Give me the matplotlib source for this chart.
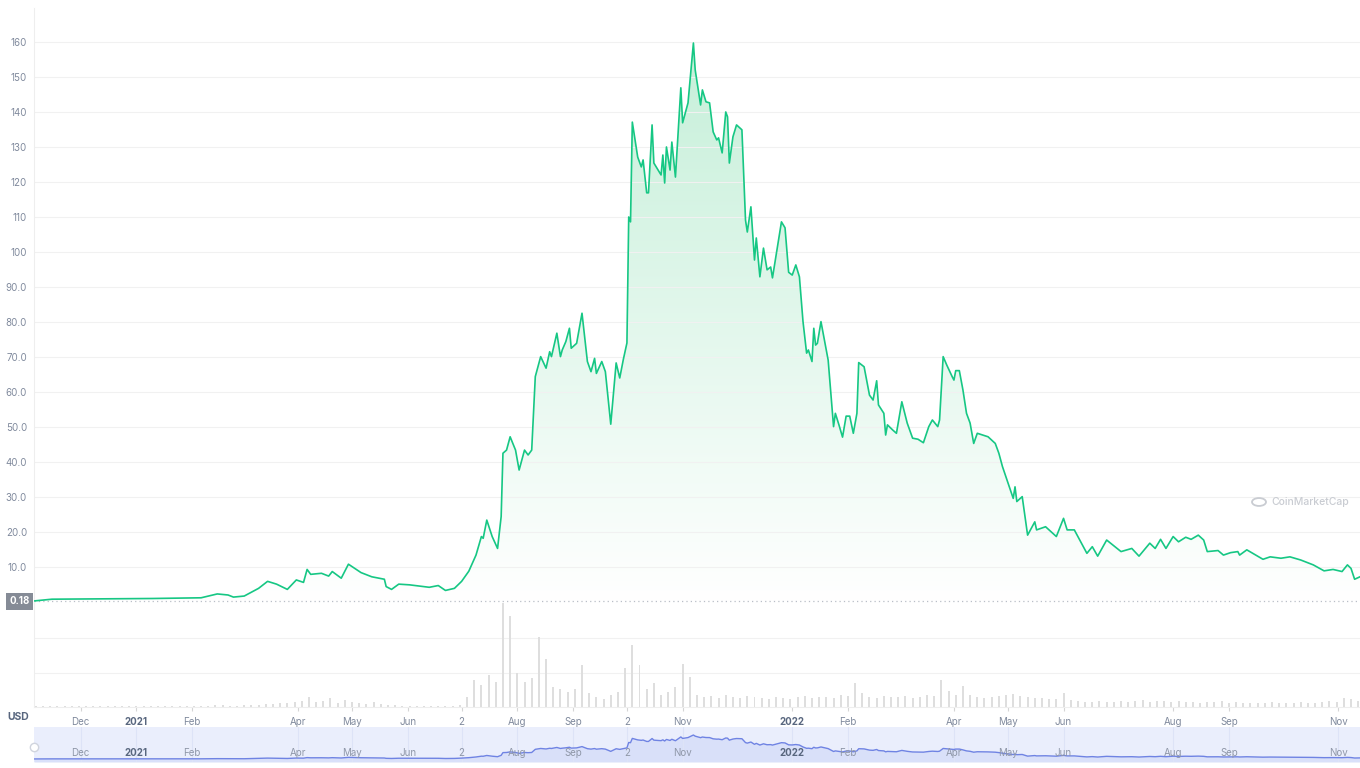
import numpy as np
import pandas as pd
import matplotlib
matplotlib.use("Agg")
import matplotlib.pyplot as plt
import matplotlib.dates as mdates
from matplotlib.colors import LinearSegmentedColormap

plt.rcParams['font.family'] = ['Inter', 'DejaVu Sans']

# price in USD
price_dates = [
    "2020-11-05", "2020-11-15", "2020-12-18", "2021-01-10", "2021-02-06", "2021-02-15", "2021-02-21",
    "2021-02-24", "2021-03-02", "2021-03-06", "2021-03-10", "2021-03-15", "2021-03-20", "2021-03-26",
    "2021-03-31", "2021-04-04", "2021-04-06", "2021-04-08", "2021-04-14", "2021-04-18", "2021-04-20",
    "2021-04-25", "2021-04-29", "2021-05-04", "2021-05-06", "2021-05-12", "2021-05-19", "2021-05-20",
    "2021-05-23", "2021-05-27", "2021-06-02", "2021-06-13", "2021-06-18", "2021-06-22", "2021-06-27",
    # Jul - Sep 2021
    "2021-07-01", "2021-07-05", "2021-07-09", "2021-07-12", "2021-07-13", "2021-07-15", "2021-07-18",
    "2021-07-21", "2021-07-23", "2021-07-24", "2021-07-26", "2021-07-28", "2021-07-31", "2021-08-02",
    "2021-08-05", "2021-08-07", "2021-08-09", "2021-08-11", "2021-08-14", "2021-08-17", "2021-08-19",
    "2021-08-20", "2021-08-23", "2021-08-25", "2021-08-26", "2021-08-28", "2021-08-30", "2021-08-31",
    "2021-09-03", "2021-09-06", "2021-09-09", "2021-09-11", "2021-09-13", "2021-09-14", "2021-09-17",
    "2021-09-19", "2021-09-22", "2021-09-25", "2021-09-27", "2021-09-29",
    # Oct - Dec 2021
    "2021-10-01", "2021-10-02", "2021-10-03", "2021-10-04", "2021-10-07", "2021-10-09", "2021-10-10",
    "2021-10-12", "2021-10-13", "2021-10-15", "2021-10-16", "2021-10-20", "2021-10-21", "2021-10-22",
    "2021-10-23", "2021-10-25", "2021-10-26", "2021-10-28", "2021-10-31",
    "2021-11-01", "2021-11-04", "2021-11-07", "2021-11-08", "2021-11-11", "2021-11-12", "2021-11-14",
    "2021-11-16", "2021-11-18", "2021-11-20", "2021-11-21", "2021-11-23", "2021-11-25", "2021-11-26",
    "2021-11-27", "2021-11-29",
    "2021-12-01", "2021-12-04", "2021-12-06", "2021-12-07", "2021-12-09", "2021-12-11", "2021-12-12",
    "2021-12-14", "2021-12-16", "2021-12-18", "2021-12-20", "2021-12-21", "2021-12-26", "2021-12-28",
    "2021-12-30",
    # 2022
    "2022-01-01", "2022-01-03", "2022-01-05", "2022-01-07", "2022-01-09", "2022-01-10", "2022-01-12",
    "2022-01-13", "2022-01-14", "2022-01-15", "2022-01-17", "2022-01-21", "2022-01-24", "2022-01-25",
    "2022-01-27", "2022-01-29", "2022-01-31",
    "2022-02-02", "2022-02-04", "2022-02-06", "2022-02-07", "2022-02-10", "2022-02-13", "2022-02-15",
    "2022-02-17", "2022-02-18", "2022-02-21", "2022-02-22", "2022-02-23", "2022-02-26", "2022-02-28",
    "2022-03-03", "2022-03-06", "2022-03-09", "2022-03-12", "2022-03-15", "2022-03-18", "2022-03-20",
    "2022-03-23", "2022-03-24", "2022-03-26", "2022-03-28", "2022-03-31",
    "2022-04-01", "2022-04-02", "2022-04-04", "2022-04-06", "2022-04-08", "2022-04-10", "2022-04-12",
    "2022-04-14", "2022-04-17", "2022-04-20", "2022-04-24", "2022-04-26", "2022-04-28",
    "2022-05-04", "2022-05-05", "2022-05-06", "2022-05-09", "2022-05-12", "2022-05-16", "2022-05-17",
    "2022-05-22", "2022-05-28",
    "2022-06-01", "2022-06-03", "2022-06-07", "2022-06-14", "2022-06-17", "2022-06-20", "2022-06-25",
    "2022-07-03", "2022-07-09", "2022-07-13", "2022-07-19", "2022-07-22", "2022-07-25", "2022-07-28",
    "2022-08-01", "2022-08-04", "2022-08-08", "2022-08-11", "2022-08-15", "2022-08-18", "2022-08-20",
    "2022-08-26", "2022-08-29",
    "2022-09-02", "2022-09-06", "2022-09-07", "2022-09-11", "2022-09-16", "2022-09-20", "2022-09-24",
    "2022-09-30",
    "2022-10-05", "2022-10-11", "2022-10-18", "2022-10-24", "2022-10-29", "2022-11-03", "2022-11-06",
    "2022-11-08", "2022-11-10", "2022-11-13",
]
price_values = [
    0.3, 0.8, 0.9, 1.0, 1.2, 2.3, 2.0,
    1.4, 1.7, 2.8, 3.9, 5.9, 5.1, 3.6,
    6.3, 5.6, 9.3, 7.9, 8.2, 7.4, 8.7,
    6.8, 10.8, 9.1, 8.4, 7.2, 6.5, 4.4,
    3.6, 5.1, 4.9, 4.2, 4.7, 3.3, 3.9,
    # Jul - Sep 2021
    5.9, 8.8, 13.4, 18.7, 18.2, 23.4, 18.7,
    15.3, 24.4, 42.5, 43.4, 47.2, 43.4, 37.7,
    43.4, 42.0, 43.4, 64.4, 70.1, 66.8, 71.5,
    70.1, 76.8, 70.1, 72.0, 74.4, 78.2, 72.5,
    73.9, 82.5, 68.7, 65.8, 69.6, 65.3, 68.7,
    65.8, 50.8, 68.3, 64.0, 69.3,
    # Oct - Dec 2021
    74.0, 110.0, 108.6, 137.1, 127.1, 124.3, 126.3,
    116.9, 116.9, 136.3, 125.4, 122.0, 127.7, 119.7,
    130.0, 123.4, 131.4, 121.4, 146.9,
    136.9, 142.6, 159.7, 152.0, 142.0, 146.3, 142.9,
    142.6, 134.3, 132.0, 132.6, 128.3, 140.0, 138.6,
    125.4, 132.9,
    136.3, 134.9, 109.1, 105.7, 112.9, 97.7, 104.0,
    92.9, 101.1, 94.9, 95.7, 92.6, 108.6, 106.9,
    94.2,
    # 2022
    93.4, 96.3, 92.9, 80.1, 71.1, 72.0, 68.7,
    78.2, 73.4, 73.9, 80.1, 69.1, 50.1, 53.9,
    50.6, 47.1, 53.1,
    53.1, 48.2, 53.9, 68.4, 67.2, 59.1, 57.7,
    63.2, 56.3, 53.9, 47.7, 50.6, 49.1, 48.2,
    57.2, 51.1, 46.8, 46.5, 45.5, 50.1, 52.0,
    50.1, 52.0, 70.1, 67.7, 64.4,
    63.4, 66.1, 66.1, 60.6, 53.9, 51.1, 45.3,
    48.2, 47.7, 47.2, 45.3, 42.5, 38.7,
    29.6, 32.9, 28.7, 30.1, 19.1, 22.9, 20.6,
    21.5, 18.7,
    23.9, 20.6, 20.6, 13.9, 15.8, 13.1, 17.7,
    14.4, 15.3, 13.1, 16.8, 15.3, 17.9, 15.3,
    18.7, 17.2, 18.5, 17.9, 19.1, 17.7, 14.4,
    14.7, 13.4,
    14.1, 14.4, 13.4, 14.9, 13.4, 12.2, 12.9,
    12.5,
    12.9, 12.0, 10.6, 8.9, 9.3, 8.7, 10.6,
    9.6, 6.5, 7.2,
]
assert len(price_dates) == len(price_values)

# trading volume (relative units), one reading every 4 days from 2020-11-06
vol_start = "2020-11-06"
vol_values = [
    1, 1, 1, 1, 1, 1, 1, 1, 1, 1,
    1, 1, 1, 1, 1, 1, 1, 1, 1, 1,
    1, 1, 1, 1, 1, 2, 2, 1, 1, 2,
    2, 2, 3, 3, 4, 4, 5, 6, 10, 5,
    6, 9, 4, 7, 5, 4, 3, 5, 3, 2,
    2, 1, 1, 1, 1, 1, 1, 1, 1, 2,
    10, 28, 22, 33, 25, 106, 93, 35, 25, 30,
    71, 49, 20, 18, 15, 18, 43, 14, 10, 8,
    12, 15, 40, 63, 43, 18, 24, 12, 15, 20,
    44, 31, 12, 10, 11, 9, 12, 10, 9, 11,
    10, 9, 8, 10, 9, 8, 10, 11, 9, 10,
    10, 9, 12, 11, 24, 14, 10, 9, 11, 10,
    10, 11, 9, 10, 12, 11, 28, 16, 12, 21,
    12, 10, 9, 10, 11, 12, 13, 11, 10, 9,
    9, 8, 8, 14, 7, 6, 5, 5, 6, 5,
    5, 6, 5, 6, 7, 5, 6, 6, 5, 6,
    5, 5, 4, 5, 5, 6, 4, 5, 4, 4,
    4, 4, 5, 4, 4, 4, 5, 4, 4, 5,
    6, 5, 9, 8, 6,
]

current_price = 0.18
y_ticks = [10, 20, 30, 40, 50, 60, 70, 80, 90, 100, 110, 120, 130, 140, 150, 160]
x_tick_dates = ["2020-12-01", "2021-01-01", "2021-02-01", "2021-04-01", "2021-05-01", "2021-06-01",
                "2021-07-01", "2021-08-01", "2021-09-01", "2021-10-01", "2021-11-01", "2022-01-01",
                "2022-02-01", "2022-04-01", "2022-05-01", "2022-06-01", "2022-08-01", "2022-09-01",
                "2022-11-01"]
x_tick_labels = ["Dec", "2021", "Feb", "Apr", "May", "Jun", "2", "Aug", "Sep", "2", "Nov", "2022",
                 "Feb", "Apr", "May", "Jun", "Aug", "Sep", "Nov"]
date_range = ("2020-11-05", "2022-11-13")

dates = pd.to_datetime(price_dates)
prices = np.array(price_values)
vol_dates = pd.date_range(vol_start, periods=len(vol_values), freq="4D")
xticks = pd.to_datetime(x_tick_dates)
x0, x1 = [mdates.date2num(pd.Timestamp(d)) for d in date_range]

W, H = 1360, 768
fig = plt.figure(figsize=(W / 100, H / 100), dpi=100)
fig.patch.set_facecolor("white")

LABEL = "#808a9d"
GREEN = "#16c784"

def px_axes(left, top, right, bottom):
    return fig.add_axes([left / W, 1 - bottom / H, (right - left) / W, (bottom - top) / H])

# volume panel
axv = px_axes(34, 602, 1360, 707)
axv.bar(vol_dates, vol_values, width=1.1, color="#dedede", linewidth=0, zorder=2)
axv.set_xlim(x0, x1)
axv.set_ylim(0, 107)
axv.set_yticks([35, 70])
axv.yaxis.grid(True, color="#f1f1f1", lw=0.8)
axv.tick_params(axis="y", length=0, labelleft=False)
axv.set_xticks(xticks)
axv.set_xticklabels(x_tick_labels)
axv.tick_params(axis="x", length=3, color="#d5d5d5", labelsize=7, labelcolor=LABEL, pad=4)
for lab in axv.get_xticklabels():
    if lab.get_text() in ("2021", "2022"):
        lab.set_fontweight("bold")
        lab.set_color("#58667e")
for s in ["top", "right"]:
    axv.spines[s].set_visible(False)
axv.spines["bottom"].set_color("#eeeeee")
axv.spines["left"].set_color("#eeeeee")

# price panel
ax = px_axes(34, 8, 1360, 607)
ax.patch.set_alpha(0)
cmap = LinearSegmentedColormap.from_list("mint", ["#ffffff", "#c4efd8"])
grad = np.linspace(0, 1, 256).reshape(-1, 1)
im = ax.imshow(grad, aspect="auto", cmap=cmap, origin="lower",
               extent=[x0, x1, 0, 165], zorder=1, interpolation="bilinear")
poly = ax.fill_between(dates, prices, current_price, color="none", lw=0)
im.set_clip_path(poly.get_paths()[0], transform=ax.transData)
ax.plot(dates, prices, color=GREEN, lw=1.2, zorder=3)
ax.axhline(current_price, color="#b9bec7", lw=0.9, ls=(0, (1, 2.5)), zorder=2)
ax.set_xlim(x0, x1)
ax.set_ylim(-1.43, 169.7)
ax.set_yticks(y_ticks)
ax.set_yticklabels([f"{v:.1f}" if v < 100 else f"{v}" for v in y_ticks])
ax.yaxis.grid(True, color="#f1f1f1", lw=0.8, zorder=0)
ax.tick_params(axis="y", length=0, labelsize=7, labelcolor=LABEL, pad=5)
ax.set_xticks([])
for s in ["top", "right", "bottom"]:
    ax.spines[s].set_visible(False)
ax.spines["left"].set_color("#eeeeee")

ax.text(-0.0035, current_price, f"{current_price:.2f}", transform=ax.get_yaxis_transform(),
        ha="right", va="center", fontsize=7, fontweight="bold", color="white",
        bbox=dict(boxstyle="square,pad=0.35", fc="#858b96", ec="none"))

# watermark
fig.text(1271 / W, 1 - 502 / H, "CoinMarketCap", fontsize=7.5, color="#c9ccd2",
         ha="left", va="center", fontweight="medium")
fig.add_artist(plt.Circle((1259 / W, 1 - 502 / H), 7 / W, transform=fig.transFigure,
                          fill=False, ec="#c9ccd2", lw=1.3))

fig.text(18 / W, 1 - 717 / H, "USD", fontsize=7.5, fontweight="bold", color="#58667e",
         ha="center", va="center")

# navigator
axn = px_axes(34, 727, 1360, 762)
axn.set_facecolor("#eaeefc")
axn.fill_between(dates, prices, -20, color="#d9e0f9", lw=0)
axn.plot(dates, prices, color="#6f83e3", lw=1.0)
axn.set_xlim(x0, x1)
axn.set_ylim(-20, 213)
axn.set_xticks(xticks)
axn.xaxis.grid(True, color="#dde3f7", lw=0.8)
axn.tick_params(length=0, labelbottom=False, labelleft=False)
axn.set_yticks([])
for s in axn.spines.values():
    s.set_visible(False)
for d, lab in zip(xticks, x_tick_labels):
    bold = lab in ("2021", "2022")
    axn.text(d, 40, lab, ha="center", va="center", fontsize=7,
             color="#58667e" if bold else "#8f97a8", fontweight="bold" if bold else "normal")
axn.plot([x0], [80], marker="o", ms=6, mfc="white", mec="#d0d4de", clip_on=False, zorder=5)

fig.savefig("out.png", dpi=100, facecolor="white")
